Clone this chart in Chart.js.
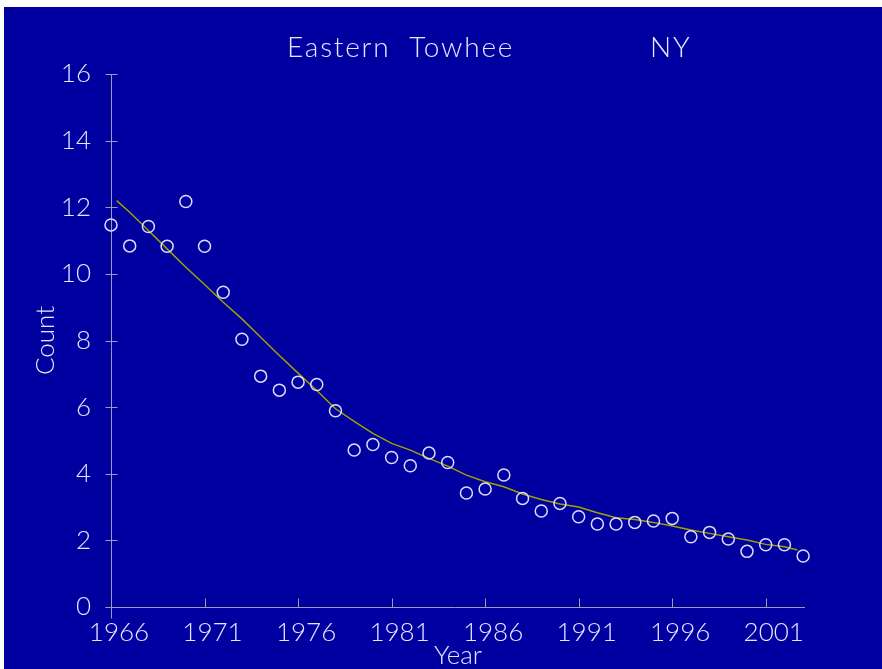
<!DOCTYPE html>
<html>
<head>
<meta charset="utf-8">
<title>Eastern Towhee NY</title>
<script src="https://cdn.jsdelivr.net/npm/chart.js@4.4.1/dist/chart.umd.min.js"></script>
<style>
  html, body { margin: 0; padding: 0; background: #fff; }
  #wrap { position: absolute; left: 4px; top: 7px; width: 878px; height: 662px; background: #0000a0; }
  canvas { display: block; }
</style>
</head>
<body>
<div id="wrap"><canvas id="towheeChart" width="878" height="662"></canvas></div>
<script>
// Survey counts per year
const years = [1966, 1967, 1968, 1969, 1970, 1971, 1972, 1973, 1974, 1975,
               1976, 1977, 1978, 1979, 1980, 1981, 1982, 1983, 1984, 1985,
               1986, 1987, 1988, 1989, 1990, 1991, 1992, 1993, 1994, 1995,
               1996, 1997, 1998, 1999, 2000, 2001, 2002, 2003];
const counts = [11.47, 10.84, 11.42, 10.83, 12.17, 10.83, 9.45, 8.04, 6.93, 6.51,
                6.75, 6.68, 5.89, 4.71, 4.88, 4.49, 4.24, 4.62, 4.34, 3.42,
                3.54, 3.96, 3.26, 2.88, 3.11, 2.71, 2.49, 2.49, 2.54, 2.58,
                2.66, 2.11, 2.24, 2.04, 1.67, 1.87, 1.87, 1.53];

// Smoothed trend line
const trendYears = [1966.3, 1967, 1968, 1969, 1970, 1971, 1972, 1973, 1974, 1975,
                    1976, 1977, 1978, 1979, 1980, 1981, 1982, 1983, 1984, 1985,
                    1986, 1987, 1988, 1989, 1990, 1991, 1992, 1993, 1994, 1995,
                    1996, 1997, 1998, 1999, 2000, 2001, 2002, 2002.7];
const trendValues = [12.2, 11.85, 11.3, 10.75, 10.2, 9.68, 9.15, 8.65, 8.1, 7.55,
                     7.02, 6.5, 5.95, 5.57, 5.21, 4.91, 4.71, 4.46, 4.23, 3.96,
                     3.76, 3.61, 3.39, 3.23, 3.09, 3.0, 2.83, 2.68, 2.63, 2.54,
                     2.43, 2.31, 2.21, 2.11, 2.01, 1.88, 1.81, 1.71];

const xTicks = [1966, 1971, 1976, 1981, 1986, 1991, 1996, 2001];
const yTicks = [0, 2, 4, 6, 8, 10, 12, 14, 16];

const speciesName = "Eastern  Towhee";
const stateName = "NY";

const textColor = '#e6e6ff';
const axisColor = '#9c9cb4';
const fontFamily = 'Lato, "DejaVu Sans", sans-serif';

// axis lines with ticks crossing / pointing inward, like the original plot
const axisLines = {
    id: 'axisLines',
    beforeDatasetsDraw(chart) {
        const { ctx, scales: { x, y } } = chart;
        const ax = Math.round(x.getPixelForValue(xTicks[0])) + 0.5;
        const ay = Math.round(y.getPixelForValue(0)) + 0.5;
        const top = Math.round(y.getPixelForValue(16)) + 0.5;
        const right = x.right;
        ctx.save();
        ctx.strokeStyle = axisColor;
        ctx.lineWidth = 1;
        ctx.beginPath();
        ctx.moveTo(ax, top);
        ctx.lineTo(ax, ay + 11);
        ctx.moveTo(ax - 6, ay);
        ctx.lineTo(right, ay);
        yTicks.forEach(v => {
            const py = Math.round(y.getPixelForValue(v)) + 0.5;
            ctx.moveTo(ax - 6, py);
            ctx.lineTo(ax + 6, py);
        });
        xTicks.slice(1).forEach(v => {
            const px = Math.round(x.getPixelForValue(v)) + 0.5;
            ctx.moveTo(px, ay - 9);
            ctx.lineTo(px, ay);
        });
        ctx.stroke();
        ctx.restore();
    },
    afterDraw(chart) {
        const { ctx } = chart;
        ctx.save();
        ctx.fillStyle = textColor;
        ctx.font = '300 28px ' + fontFamily;
        ctx.letterSpacing = '1.8px';
        ctx.textBaseline = 'alphabetic';
        ctx.textAlign = 'left';
        ctx.fillText(speciesName, 283, 50);
        ctx.fillText(stateName, 646, 50);
        ctx.restore();
    }
};

const ctx = document.getElementById('towheeChart').getContext('2d');
new Chart(ctx, {
    type: 'scatter',
    data: {
        datasets: [
            {
                label: 'Count',
                data: years.map((yr, i) => ({ x: yr, y: counts[i] })),
                showLine: false,
                clip: false,
                pointStyle: 'circle',
                pointRadius: 6,
                pointHoverRadius: 6,
                pointBorderWidth: 1.5,
                pointBorderColor: '#dcdcff',
                pointBackgroundColor: 'rgba(0,0,0,0)',
                order: 1
            },
            {
                label: 'Trend',
                data: trendYears.map((yr, i) => ({ x: yr, y: trendValues[i] })),
                showLine: true,
                clip: false,
                borderColor: '#a0a000',
                borderWidth: 1.5,
                pointRadius: 0,
                tension: 0,
                order: 2
            }
        ]
    },
    options: {
        responsive: false,
        animation: false,
        devicePixelRatio: 1,
        layout: { padding: { top: 67, right: 77, left: 0, bottom: 0 } },
        plugins: {
            legend: { display: false },
            tooltip: { enabled: false },
            title: { display: false }
        },
        scales: {
            x: {
                type: 'linear',
                min: 1966,
                max: 2003.1,
                afterBuildTicks: scale => { scale.ticks = xTicks.map(v => ({ value: v })); },
                afterFit: scale => { scale.height = 62; },
                grid: { display: false },
                border: { display: false },
                ticks: {
                    color: textColor,
                    font: { family: fontFamily, size: 26, weight: 300 },
                    padding: 2,
                    labelOffset: 8,
                    maxRotation: 0,
                    autoSkip: false,
                    callback: v => String(v)
                },
                title: {
                    display: true,
                    text: 'Year',
                    color: textColor,
                    font: { family: fontFamily, size: 26, weight: 300, lineHeight: 1 },
                    padding: { top: 0, bottom: 0 }
                }
            },
            y: {
                min: 0,
                max: 16,
                afterBuildTicks: scale => { scale.ticks = yTicks.map(v => ({ value: v })); },
                afterFit: scale => { scale.width = 107; },
                grid: { display: false },
                border: { display: false },
                ticks: {
                    color: textColor,
                    font: { family: fontFamily, size: 26, weight: 300 },
                    padding: 12,
                    callback: v => String(v)
                },
                title: {
                    display: true,
                    text: 'Count',
                    color: textColor,
                    font: { family: fontFamily, size: 26, weight: 300, lineHeight: 1.2 },
                    padding: { top: 26, bottom: 0 }
                }
            }
        }
    },
    plugins: [axisLines]
});
</script>
</body>
</html>
